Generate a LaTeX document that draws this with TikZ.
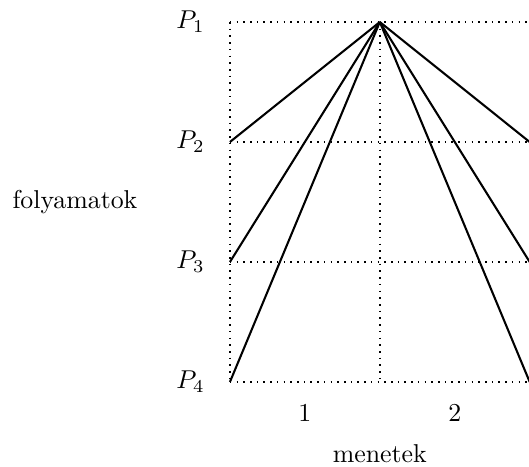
\documentclass[tikz,border=0pt]{standalone}
\usetikzlibrary{positioning}
\begin{document}
\begin{tikzpicture}[x=2.04cm,y=1.633cm,
  gridline/.style={line width=0.6pt,dash pattern=on 0.6pt off 2pt},
  run/.style={line width=0.8pt}]
  \useasboundingbox (0,0) rectangle (7.2cm,6.35cm);
  \coordinate (l1) at (1.534,3.705);
  \coordinate (m1) at (2.534,3.705);
  \coordinate (r1) at (3.534,3.705);
  \coordinate (l2) at (1.534,2.705);
  \coordinate (m2) at (2.534,2.705);
  \coordinate (r2) at (3.534,2.705);
  \coordinate (l3) at (1.534,1.705);
  \coordinate (m3) at (2.534,1.705);
  \coordinate (r3) at (3.534,1.705);
  \coordinate (l4) at (1.534,0.705);
  \coordinate (m4) at (2.534,0.705);
  \coordinate (r4) at (3.534,0.705);
  % grid
  \draw[gridline] (l1)--(r1);
  \draw[gridline] (l2)--(r2);
  \draw[gridline] (l3)--(r3);
  \draw[gridline] (l4)--(r4);
  \draw[gridline] (l1)--(l4);
  \draw[gridline] (m1)--(m4);
  % folyamatok
  \node[left=0.22cm of l1] (p1) {$P_1$};
  \node[left=0.22cm of l2] (p2) {$P_2$};
  \node[left=0.22cm of l3] (p3) {$P_3$};
  \node[left=0.22cm of l4] (p4) {$P_4$};
  \node (fol) at (0.5,2.205) {folyamatok};
  % menetek
  \node (n1) at (2.034,0.445) {1};
  \node (n2) at (3.034,0.445) {2};
  \node (men) at (2.534,0.11) {menetek};
  \draw[run] (m1)--(l2);
  \draw[run] (m1)--(l3);
  \draw[run] (m1)--(l4);
  \draw[run] (m1)--(r2);
  \draw[run] (m1)--(r3);
  \draw[run] (m1)--(r4);
\end{tikzpicture}
\end{document}
